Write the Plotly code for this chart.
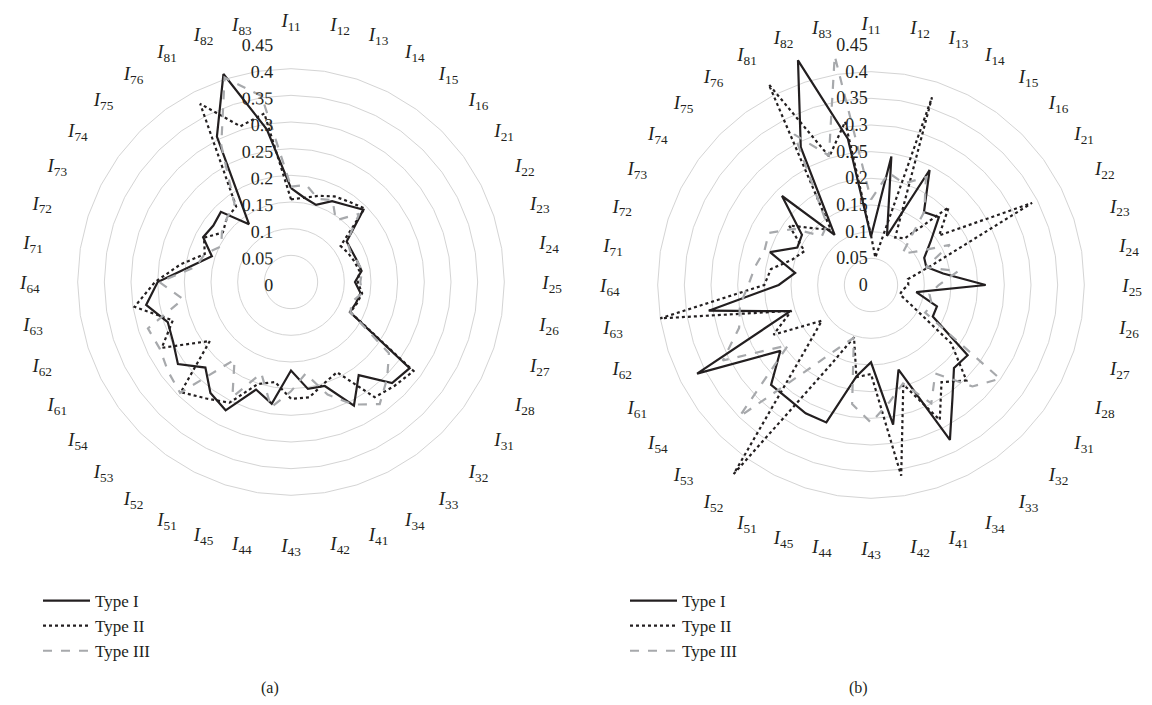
import plotly.graph_objects as go

categories = ["I11", "I12", "I13", "I14", "I15", "I16",
              "I21", "I22", "I23", "I24", "I25", "I26", "I27", "I28",
              "I31", "I32", "I33", "I34",
              "I41", "I42", "I43", "I44", "I45",
              "I51", "I52", "I53", "I54",
              "I61", "I62", "I63", "I64",
              "I71", "I72", "I73", "I74", "I75", "I76",
              "I81", "I82", "I83"]
tick_labels = ["<i>I</i><sub>" + c[1:] + "</sub>" for c in categories]

radial_ticks = [0, 0.05, 0.1, 0.15, 0.2, 0.25, 0.3, 0.35, 0.4, 0.45]
radial_text = ["0", "0.05", "0.1", "0.15", "0.2", "0.25", "0.3", "0.35", "0.4", "0.45"]

series_names = ["Type I", "Type II", "Type III"]

# Panel (a)
a_type1 = [0.176, 0.160, 0.152, 0.170, 0.178, 0.192, 0.129, 0.128, 0.130, 0.134,
           0.120, 0.132, 0.128, 0.124, 0.275, 0.268, 0.216, 0.260, 0.205, 0.203,
           0.166, 0.231, 0.212, 0.270, 0.257, 0.227, 0.262, 0.248, 0.243, 0.275,
           0.250, 0.190, 0.156, 0.185, 0.180, 0.186, 0.134, 0.306, 0.410, 0.290]
a_type2 = [0.155, 0.160, 0.170, 0.180, 0.186, 0.195, 0.115, 0.120, 0.125, 0.130,
           0.125, 0.135, 0.130, 0.125, 0.284, 0.275, 0.267, 0.190, 0.200, 0.219,
           0.219, 0.190, 0.201, 0.254, 0.270, 0.292, 0.188, 0.272, 0.233, 0.297,
           0.255, 0.210, 0.170, 0.183, 0.158, 0.170, 0.175, 0.375, 0.307, 0.320]
a_type3 = [0.179, 0.184, 0.164, 0.172, 0.143, 0.181, 0.130, 0.125, 0.130, 0.135,
           0.130, 0.135, 0.120, 0.125, 0.227, 0.255, 0.283, 0.258, 0.222, 0.174,
           0.205, 0.238, 0.180, 0.242, 0.180, 0.294, 0.285, 0.276, 0.282, 0.205,
           0.247, 0.181, 0.170, 0.147, 0.160, 0.170, 0.180, 0.288, 0.403, 0.353]

# Panel (b)
b_type1 = [0.091, 0.244, 0.097, 0.242, 0.169, 0.180, 0.138, 0.112, 0.109, 0.137,
           0.215, 0.086, 0.130, 0.130, 0.224, 0.220, 0.260, 0.326, 0.167, 0.265,
           0.145, 0.173, 0.271, 0.270, 0.264, 0.265, 0.210, 0.366, 0.159, 0.308,
           0.173, 0.144, 0.199, 0.155, 0.160, 0.236, 0.116, 0.290, 0.443, 0.278]
b_type2 = [0.093, 0.052, 0.370, 0.100, 0.108, 0.206, 0.158, 0.339, 0.120, 0.070,
           0.070, 0.060, 0.057, 0.087, 0.186, 0.253, 0.225, 0.284, 0.196, 0.362,
           0.167, 0.175, 0.103, 0.170, 0.438, 0.177, 0.114, 0.205, 0.157, 0.400,
           0.200, 0.190, 0.155, 0.140, 0.190, 0.150, 0.128, 0.422, 0.253, 0.310]
b_type3 = [0.160, 0.213, 0.200, 0.227, 0.170, 0.083, 0.107, 0.166, 0.108, 0.165,
           0.127, 0.111, 0.120, 0.114, 0.299, 0.269, 0.205, 0.249, 0.194, 0.222,
           0.258, 0.226, 0.104, 0.132, 0.191, 0.349, 0.192, 0.312, 0.260, 0.249,
           0.230, 0.220, 0.210, 0.215, 0.179, 0.130, 0.140, 0.317, 0.255, 0.435]

INK = "#231f20"
GREY = "#a7a9ac"
styles = [dict(color=INK, width=2.2, dash="solid"),
          dict(color=INK, width=2.2, dash="dot"),
          dict(color=GREY, width=2.2, dash="dash")]

fig = go.Figure()
closed = categories + [categories[0]]
for subplot, legend, data in [("polar", "legend", [a_type1, a_type2, a_type3]),
                              ("polar2", "legend2", [b_type1, b_type2, b_type3])]:
    for name, vals, st in zip(series_names, data, styles):
        fig.add_trace(go.Scatterpolar(
            r=vals + [vals[0]], theta=closed, mode="lines", name=name,
            line=st, subplot=subplot, legend=legend, showlegend=True))

SERIF = "Liberation Serif"
R = 240
W, H = 1152, 705
# the page body adds an 8 px margin; positions below are in page pixels
OFF = 8

# pad the radial labels on the left with no-break spaces (0.25 em, like the
# decimal point) so that every label has the same width -> right-aligned column
NBSP = "\u00a0"
def pad(t):
    digits = sum(ch.isdigit() for ch in t)
    dots = t.count(".")
    width_q = digits * 2 + dots          # in quarter-em units
    return NBSP * (7 - width_q) + t
radial_text_padded = [pad(t) for t in radial_text]

def polar_layout(cx, cy, tick_angle, tick_mode, tick_len):
    cx -= OFF
    cy -= OFF
    return dict(
        domain=dict(x=[(cx - R) / W, (cx + R) / W], y=[(H - cy - R) / H, (H - cy + R) / H]),
        bgcolor="rgba(0,0,0,0)",
        gridshape="linear",
        angularaxis=dict(type="category", categoryarray=categories, rotation=90,
                         direction="clockwise", tickmode="array", tickvals=categories,
                         ticktext=tick_labels, showgrid=False, showline=False,
                         ticks="outside", ticklen=7, tickcolor="rgba(0,0,0,0)",
                         tickfont=dict(family=SERIF, size=19, color=INK)),
        radialaxis=dict(range=[0, 0.45], tickmode="array", tickvals=radial_ticks,
                        ticktext=radial_text_padded, angle=90, side="counterclockwise",
                        tickangle=tick_angle, showline=False,
                        ticks=tick_mode, ticklen=tick_len, tickcolor="rgba(0,0,0,0)",
                        gridcolor="#d4d4d4", gridwidth=1,
                        tickfont=dict(family=SERIF, size=18, color=INK)),
    )

def legend_layout(x_line):
    return dict(x=(x_line - OFF - 7) / W, y=1 - (583 - OFF) / H, xanchor="left", yanchor="top",
                font=dict(family=SERIF, size=17, color=INK), bgcolor="rgba(0,0,0,0)",
                tracegroupgap=0, itemwidth=47)

fig.update_layout(
    width=W, height=H,
    margin=dict(l=0, r=0, t=0, b=0),
    paper_bgcolor="white", plot_bgcolor="white",
    polar=polar_layout(291, 282, 89.9, "outside", 1),
    polar2=polar_layout(871, 285, 90, "", 1),
    legend=legend_layout(45),
    legend2=legend_layout(632),
    annotations=[
        dict(text="(a)", x=(270 - OFF) / W, y=1 - (688 - OFF) / H, xref="paper", yref="paper",
             xanchor="center", yanchor="middle",
             showarrow=False, font=dict(family=SERIF, size=16, color=INK)),
        dict(text="(b)", x=(858 - OFF) / W, y=1 - (688 - OFF) / H, xref="paper", yref="paper",
             xanchor="center", yanchor="middle",
             showarrow=False, font=dict(family=SERIF, size=16, color=INK)),
    ],
)

fig.write_html("out.html")
